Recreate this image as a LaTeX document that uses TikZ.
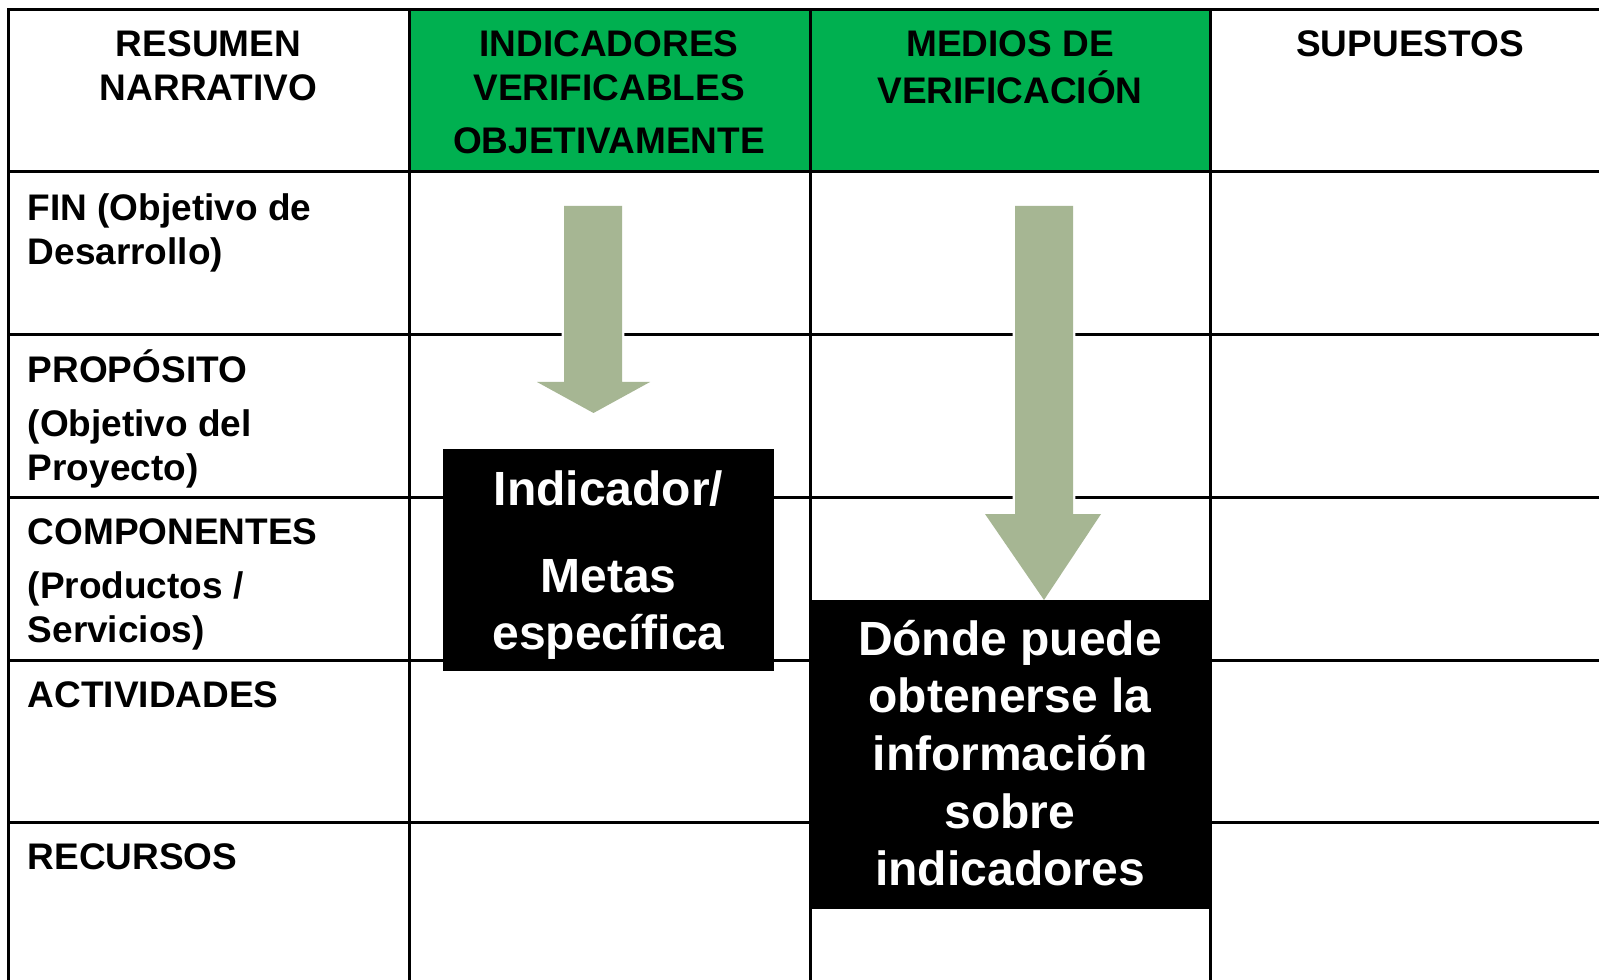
\documentclass[tikz,border=0pt]{standalone}
\usepackage{fontspec}
\setmainfont{Liberation Sans}
\definecolor{hdrgreen}{RGB}{0,176,80}
\definecolor{arrowgreen}{RGB}{166,182,147}
\begin{document}
\begin{tikzpicture}[x=0.75pt,y=-0.75pt,
  grid/.style={line width=2.25pt, black, line cap=rect},
  hdr/.style={font=\bfseries\fontsize{27.75}{33.3}\selectfont, align=center, inner sep=0pt, anchor=north},
  lbl/.style={font=\bfseries\fontsize{27.75}{33.3}\selectfont, align=left, inner sep=0pt, anchor=north west},
  blockarrow/.style={fill=arrowgreen, preaction={draw=white, line width=3.5pt, line join=miter}},
  blackbox/.style={fill=black, draw=none, inner sep=0pt},
  boxtext/.style={font=\bfseries\fontsize{36}{43.2}\selectfont, text=white, align=center, inner sep=0pt, anchor=north}
]
\useasboundingbox (0,0) rectangle (1599,980);
\fill[white] (0,0) rectangle (1599,980);
% green header cells
\fill[hdrgreen] (409,10) rectangle (1210,172);
% grid
\foreach \x in {8,409,810,1210} \draw[grid] (\x,10) -- (\x,990);
\foreach \y in {10,172,335,497.5,660,822.5} \draw[grid] (8,\y) -- (1610,\y);

% headers
\node[hdr] (h1) at (208.5,24.9) {\strut RESUMEN\\NARRATIVO};
\node[hdr] (h2) at (609,24.9) {\strut INDICADORES\\VERIFICABLES\\[6.5pt]OBJETIVAMENTE};
\node[hdr] (h3) at (1010,24.9) {\strut MEDIOS DE\\VERIFICACIÓN};
\node[hdr] (h4) at (1410,24.9) {\strut SUPUESTOS};

% row labels
\node[lbl] (r1) at (27.5,188.9) {\strut FIN (Objetivo de\\Desarrollo)};
\node[lbl] (r2) at (27.5,349) {\strut PROPÓSITO\\[7.2pt](Objetivo del\\Proyecto)};
\node[lbl] (r3) at (27.5,513) {\strut COMPONENTES\\[7.2pt](Productos /\\Servicios)};
\node[lbl] (r4) at (27.5,676) {\strut ACTIVIDADES};
\node[lbl] (r5) at (27.5,838) {\strut RECURSOS};

% block arrows
\coordinate (a1tip) at (593.5,413);
\coordinate (a2tip) at (1044,600);
\path[blockarrow] (564,206) -- (622,206) -- (622,382) -- (650,382) -- (a1tip) -- (537,382) -- (564,382) -- cycle;
\path[blockarrow] (1015,206) -- (1073,206) -- (1073,514) -- (1101,514) -- (a2tip) -- (985,514) -- (1015,514) -- cycle;

% black boxes
\node[blackbox, minimum width=248.25pt, minimum height=166.5pt] (b1) at (608.5,560) {};
\node[blackbox, minimum width=300pt, minimum height=231.75pt] (b2) at (1010,754.5) {};
\node[boxtext] (t1) at (608.5,464.7) {\strut Indicador/\\[22pt]Metas\\específica};
\node[boxtext] (t2) at (1010,614.7) {\strut Dónde puede\\obtenerse la\\información\\sobre\\indicadores};
\end{tikzpicture}
\end{document}
